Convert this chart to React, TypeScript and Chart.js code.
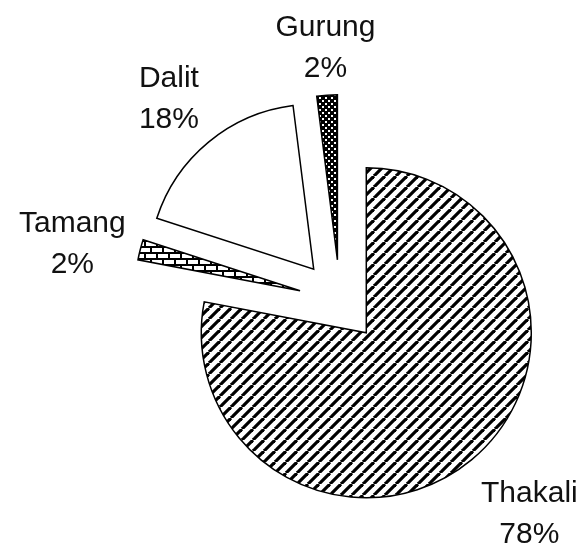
import React, { useEffect, useRef } from "react";
import { Chart, registerables } from "chart.js";

Chart.register(...registerables);

const categories = ["Thakali", "Tamang", "Dalit", "Gurung"];
const shares = [78, 2, 18, 2];

function makeTile(w: number, h: number, draw: (c: CanvasRenderingContext2D) => void): CanvasPattern | string {
  const cv = document.createElement("canvas");
  cv.width = w;
  cv.height = h;
  const c = cv.getContext("2d");
  if (!c) return "#fff";
  draw(c);
  const p = c.createPattern(cv, "repeat");
  return p || "#fff";
}

function diagonalPattern() {
  const s = 11;
  return makeTile(s, s, (c) => {
    c.fillStyle = "#fff";
    c.fillRect(0, 0, s, s);
    c.strokeStyle = "#000";
    c.lineWidth = 3.2;
    for (const x0 of [-s, 0, s]) {
      c.beginPath();
      c.moveTo(x0, s);
      c.lineTo(x0 + s, 0);
      c.stroke();
    }
  });
}

function brickPattern() {
  return makeTile(12, 12, (c) => {
    c.fillStyle = "#fff";
    c.fillRect(0, 0, 12, 12);
    c.fillStyle = "#000";
    c.fillRect(0, 0, 12, 2);
    c.fillRect(0, 6, 12, 2);
    c.fillRect(0, 0, 2, 6);
    c.fillRect(6, 6, 2, 6);
  });
}

function dotPattern() {
  return makeTile(6, 6, (c) => {
    c.fillStyle = "#000";
    c.fillRect(0, 0, 6, 6);
    c.fillStyle = "#fff";
    c.fillRect(1, 1, 2, 2);
    c.fillRect(4, 4, 2, 2);
  });
}

const explodePlugin = {
  id: "explode",
  afterDatasetUpdate(chart: any, args: any) {
    const meta = args.meta;
    meta.data.forEach((el: any) => {
      const mid = (el.startAngle + el.endAngle) / 2;
      const d = el.outerRadius * 0.25;
      el.x = el.x + Math.cos(mid) * d;
      el.y = el.y + Math.sin(mid) * d;
    });
  },
};

function shift(t: number) {
  const a = Math.min(1, Math.pow(Math.abs(t) / 0.55, 2));
  return Math.sign(t) * a;
}

const labelPlugin = {
  id: "sliceLabels",
  afterDatasetsDraw(chart: any) {
    const ctx: CanvasRenderingContext2D = chart.ctx;
    const meta = chart.getDatasetMeta(0);
    const total = shares.reduce((a, b) => a + b, 0);
    const fontSize = 30;
    const lineGap = 41;
    const halfV = 37;
    const gap = 15;
    const capHalf = fontSize * 0.716 / 2 + 3;
    ctx.save();
    ctx.font = fontSize + 'px "Liberation Sans", Arial, sans-serif';
    ctx.fillStyle = "#111";
    ctx.textAlign = "center";
    ctx.textBaseline = "alphabetic";
    meta.data.forEach((el: any, i: number) => {
      const mid = (el.startAngle + el.endAngle) / 2;
      const dx = Math.cos(mid);
      const dy = Math.sin(mid);
      const l1 = categories[i];
      const l2 = Math.round((shares[i] / total) * 100) + "%";
      const w = Math.max(ctx.measureText(l1).width, ctx.measureText(l2).width);
      const px = el.x + dx * (el.outerRadius + gap);
      const py = el.y + dy * (el.outerRadius + gap);
      const lx = px + shift(dx) * (w / 2);
      const ly = py + shift(dy) * halfV;
      ctx.fillText(l1, lx, ly - lineGap / 2 + capHalf);
      ctx.fillText(l2, lx, ly + lineGap / 2 + capHalf);
    });
    ctx.restore();
  },
};

export default function App() {
  const ref = useRef<HTMLCanvasElement | null>(null);
  useEffect(() => {
    document.body.style.margin = "0";
    if (!ref.current) return;
    const chart = new Chart(ref.current, {
      type: "pie",
      data: {
        labels: categories,
        datasets: [
          {
            data: shares,
            backgroundColor: [diagonalPattern(), brickPattern(), "#ffffff", dotPattern()] as any,
            borderColor: "#000",
            borderWidth: 1.5,
            borderJoinStyle: "miter",
            radius: 165,
            clip: false,
          } as any,
        ],
      },
      options: {
        responsive: false,
        animation: false,
        layout: { padding: { left: 99, right: 0, top: 57, bottom: 0 } },
        plugins: { legend: { display: false }, tooltip: { enabled: false } },
      },
      plugins: [explodePlugin, labelPlugin],
    });
    return () => chart.destroy();
  }, []);
  return (
    <div style={{ width: 581, height: 545, overflow: "hidden" }}>
      <canvas ref={ref} width={581} height={545} style={{ display: "block" }} />
    </div>
  );
}
